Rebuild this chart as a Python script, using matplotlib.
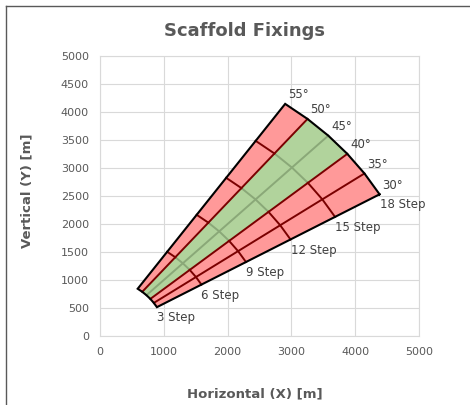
import matplotlib
matplotlib.use('Agg')
import matplotlib.pyplot as plt
from matplotlib.lines import Line2D
import numpy as np

# # fan geometry
angles = [30, 35, 40, 45, 50, 55]          # deg
steps = [3, 6, 9, 12, 15, 18]
radii = [1030, 1836, 2642, 3448, 4254, 5060]  # m, radius of each step arc

angle_labels = ['30°', '35°', '40°', '45°', '50°', '55°']
step_labels = ['3 Step', '6 Step', '9 Step', '12 Step', '15 Step', '18 Step']

# # zones: (start angle, end angle, fill, grid colour)
zones = [(30, 40, '#ff9999', '#7a0000'),
         (40, 50, '#b1d39c', '#8aa878'),
         (50, 55, '#ff9999', '#7a0000')]

red_line = '#7a0000'
green_line = '#8aa878'
txt = '#404040'


def xy(r, a):
    t = np.radians(a)
    return r*np.cos(t), r*np.sin(t)


fig = plt.figure(figsize=(4.70, 4.05), dpi=100)
ax = fig.add_axes([100/470, 1-336/405, 319/470, 280/405])

# # fills
for a0, a1, fc, lc in zones:
    aa = [a for a in angles if a0 <= a <= a1]
    xo, yo = xy(radii[-1], np.array(aa))
    xi, yi = xy(radii[0], np.array(aa[::-1]))
    ax.fill(np.r_[xo, xi], np.r_[yo, yi], color=fc, lw=0, zorder=2)

# # inner step arcs, coloured by zone
for r in radii[1:-1]:
    for a0, a1, fc, lc in zones:
        aa = np.array([a for a in angles if a0 <= a <= a1])
        x, y = xy(r, aa)
        ax.plot(x, y, color=lc, lw=1.4, zorder=3 if lc == green_line else 4)

# # inner rays
for a in angles[1:-1]:
    col = green_line if a == 45 else red_line
    x, y = xy(np.array([radii[0], radii[-1]]), a)
    ax.plot(x, y, color=col, lw=1.4, zorder=3 if col == green_line else 4)

# # black outline
aa = np.array(angles)
xo, yo = xy(radii[-1], aa)
xi, yi = xy(radii[0], aa[::-1])
ax.plot(np.r_[xo, xi, xo[0]], np.r_[yo, yi, yo[0]], color='black', lw=1.5,
        zorder=5, solid_joinstyle='miter')

# # labels
for a, lab in zip(angles, angle_labels):
    x, y = xy(radii[-1], a)
    ax.annotate(lab, (x, y), xytext=(2, 2), textcoords='offset points',
                ha='left', va='bottom', fontsize=8.5, color=txt, zorder=6)
for r, lab in zip(radii, step_labels):
    x, y = xy(r, angles[0])
    ax.annotate(lab, (x, y), xytext=(0, -3), textcoords='offset points',
                ha='left', va='top', fontsize=8.5, color=txt, zorder=6)

ax.set_xlim(0, 5000)
ax.set_ylim(0, 5000)
ax.set_xticks(np.arange(0, 5001, 1000))
ax.set_yticks(np.arange(0, 5001, 500))
ax.grid(True, color='#d9d9d9', lw=0.8, zorder=0)
ax.set_axisbelow(True)
for s in ax.spines.values():
    s.set_color('#d9d9d9')
    s.set_linewidth(0.8)
ax.tick_params(length=0, labelsize=8, labelcolor='#595959', pad=8)

fig.text(244/470, 1-31/405, 'Scaffold Fixings', ha='center', va='center',
         fontsize=13, fontweight='bold', color='#595959')
fig.text(255/470, 1-394/405, 'Horizontal (X) [m]', ha='center', va='center',
         fontsize=9.5, fontweight='bold', color='#595959')
fig.text(27/470, 1-191/405, 'Vertical (Y) [m]', ha='center', va='center',
         rotation=90, fontsize=9.5, fontweight='bold', color='#595959')

# # chart border (left and top edge visible)
fig.add_artist(Line2D([6/470, 6/470], [0, 1-6/405], color='#595959', lw=1))
fig.add_artist(Line2D([6/470, 1], [1-6/405, 1-6/405], color='#595959', lw=1))

fig.savefig('out.png', dpi=100)
